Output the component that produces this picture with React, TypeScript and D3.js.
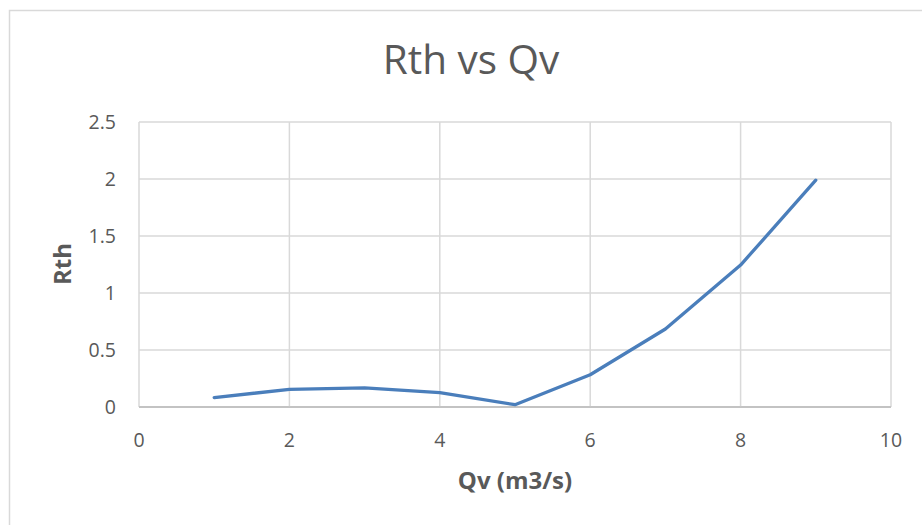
import React from "react";
import * as d3 from "d3";

const qv = [1, 2, 3, 4, 5, 6, 7, 8, 9];
const rth = [0.082, 0.155, 0.167, 0.126, 0.02, 0.283, 0.684, 1.245, 1.99];
const xTicks = [0, 2, 4, 6, 8, 10];
const yTicks = [0, 0.5, 1, 1.5, 2, 2.5];
const title = "Rth vs Qv";
const xTitle = "Qv (m3/s)";
const yTitle = "Rth";

export default function App() {
  const W = 922, H = 525;
  const left = 139, right = 891, top = 122, bottom = 407;
  const x = d3.scaleLinear().domain([0, 10]).range([left, right]);
  const y = d3.scaleLinear().domain([0, 2.5]).range([bottom, top]);
  const line = d3.line<number>().x((_, i) => x(qv[i])).y((d) => y(d));
  const font = "'Open Sans', sans-serif";
  const grey = "#595959";
  return (
    <svg width={W} height={H} style={{ position: "absolute", left: 0, top: 0, background: "#fff" }}>
      <rect x={0} y={0} width={W} height={H} fill="#fff" />
      <rect x={9.5} y={10.5} width={930} height={530} fill="none" stroke="#d9d9d9" strokeWidth={1.5} />
      {yTicks.map((t) => (
        <line key={"gy" + t} x1={left} x2={right} y1={y(t)} y2={y(t)} stroke={t === 0 ? "#bfbfbf" : "#d9d9d9"} strokeWidth={1.5} />
      ))}
      {xTicks.map((t) => (
        <line key={"gx" + t} x1={x(t)} x2={x(t)} y1={top} y2={bottom} stroke="#d9d9d9" strokeWidth={1.5} />
      ))}
      <line x1={left} x2={right} y1={bottom} y2={bottom} stroke="#bfbfbf" strokeWidth={1.5} />
      <path d={line(rth) || ""} fill="none" stroke="#4a7ebb" strokeWidth={3.3} strokeLinejoin="round" strokeLinecap="round" />
      {yTicks.map((t) => (
        <text key={"ty" + t} x={116} y={y(t)} dy="0.35em" textAnchor="end" fontFamily={font} fontSize={19.5} fill={grey}>
          {String(t)}
        </text>
      ))}
      {xTicks.map((t) => (
        <text key={"tx" + t} x={x(t)} y={447} textAnchor="middle" fontFamily={font} fontSize={19.5} fill={grey}>
          {String(t)}
        </text>
      ))}
      <text x={471} y={74} textAnchor="middle" fontFamily={font} fontSize={40.5} fill={grey}>
        {title}
      </text>
      <text x={515} y={489} textAnchor="middle" fontFamily={font} fontSize={24} fontWeight="bold" fill={grey}>
        {xTitle}
      </text>
      <text transform="translate(71,264) rotate(-90)" textAnchor="middle" fontFamily={font} fontSize={24} fontWeight="bold" fill={grey}>
        {yTitle}
      </text>
    </svg>
  );
}
